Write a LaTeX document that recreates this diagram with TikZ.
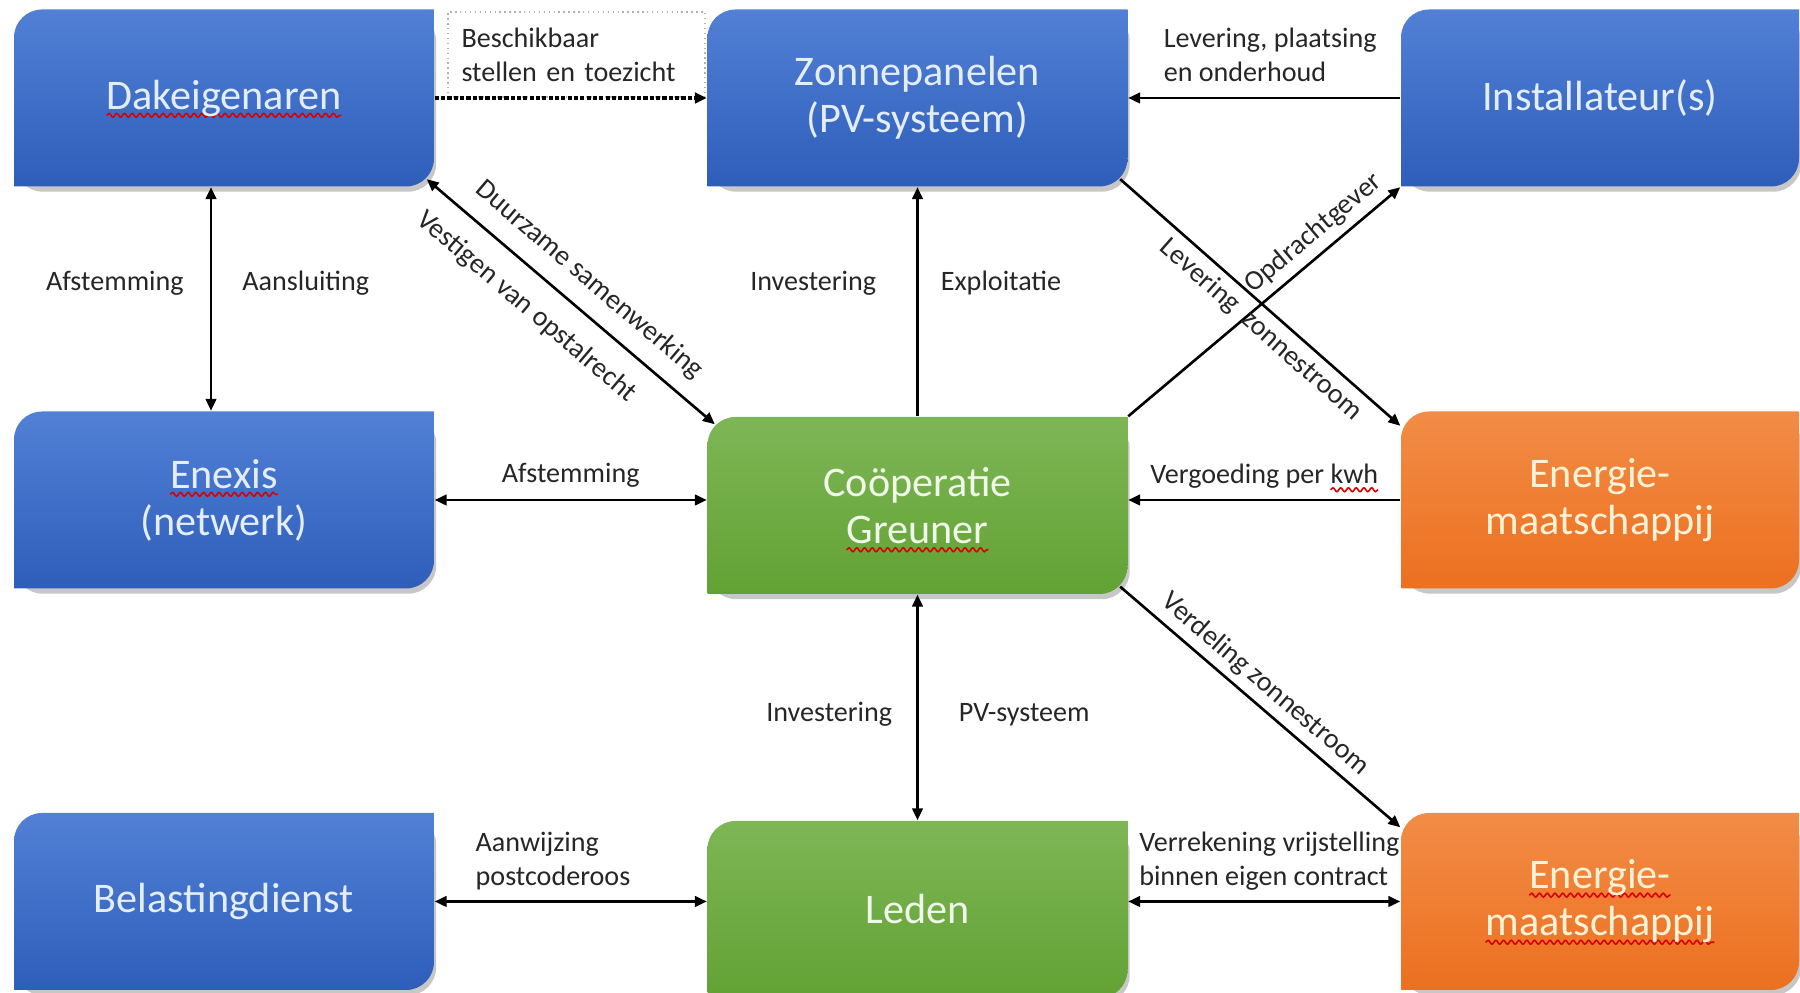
\documentclass[tikz,border=0pt]{standalone}
\usepackage{fontspec}
\setmainfont{Carlito}
\usetikzlibrary{arrows.meta,decorations.pathmorphing}
\pgfdeclarelayer{background}
\pgfsetlayers{background,main}

\definecolor{blueTop}{RGB}{82,128,214}
\definecolor{blueBot}{RGB}{46,94,186}
\definecolor{blueText}{RGB}{228,237,252}
\definecolor{greenTop}{RGB}{126,182,86}
\definecolor{greenBot}{RGB}{98,162,52}
\definecolor{greenText}{RGB}{240,248,234}
\definecolor{orangeTop}{RGB}{242,140,70}
\definecolor{orangeBot}{RGB}{236,112,32}
\definecolor{orangeText}{RGB}{255,242,214}

\newcommand\spellwave[1]{\setbox0=\hbox{#1}\rlap{\tikz[overlay]\draw[-, solid, red!85!black, line width=0.45pt, decorate, decoration={snake, amplitude=0.55pt, segment length=2.2pt}] (0,-1.8pt) -- (\the\wd0,-1.8pt);}\box0}

\begin{document}
\begin{tikzpicture}[
  >={Triangle[length=3.4pt,width=3pt]},
  lbl/.style={font=\fontsize{8}{9.6}\selectfont, text=black!85, inner sep=2pt},
  link/.style={line width=0.75pt, black},
  actor/.style n args={3}{minimum width=4.2cm, minimum height=1.77cm, inner sep=0pt,
    align=center, font=\fontsize{12}{13.4}\selectfont, text=#3,
    path picture={\shade[top color=#1, bottom color=#2]
      (path picture bounding box.south west)
      -- ([yshift=-2.8mm]path picture bounding box.north west)
      arc[start angle=180, end angle=90, radius=2.8mm]
      -- (path picture bounding box.north east)
      -- ([yshift=2.8mm]path picture bounding box.south east)
      arc[start angle=0, end angle=-90, radius=2.8mm] -- cycle;}},
  bluebox/.style={actor={blueTop}{blueBot}{blueText}},
  greenbox/.style={actor={greenTop}{greenBot}{greenText}},
  orangebox/.style={actor={orangeTop}{orangeBot}{orangeText}},
  notebox/.style={lbl, draw=gray!60, densely dotted, align=left, text width=2.3cm,
    inner xsep=1.35mm, minimum height=0.85cm},
]
\path[use as bounding box] (0,0) rectangle (18,9.93);
\clip (0,0) rectangle (18,9.93);

\node[bluebox] (dak) at (2.24,8.95) {\spellwave{Dakeigenaren}};
\node[bluebox] (zon) at (9.175,8.95) {Zonnepanelen\\(PV-systeem)};
\node[bluebox, minimum width=3.98cm] (inst) at (16.00,8.95) {Installateur(s)};
\node[bluebox] (enexis) at (2.24,4.93) {\spellwave{Enexis}\\(netwerk)};
\node[greenbox] (coop) at (9.175,4.875) {Coöperatie\\\spellwave{Greuner}};
\node[orangebox, minimum width=3.98cm] (en1) at (16.00,4.93) {Energie-\\maatschappij};
\node[bluebox] (belast) at (2.24,0.915) {Belastingdienst};
\node[greenbox] (leden) at (9.175,0.835) {Leden};
\node[orangebox, minimum width=3.98cm] (en2) at (16.00,0.915) {\spellwave{Energie-}\\\spellwave{maatschappij}};

% soft shadows under the boxes
\begin{pgfonlayer}{background}
\foreach \b in {dak,zon,inst,enexis,coop,en1,belast,leden,en2}
  \fill[black, opacity=0.22, rounded corners=2.8mm] ([shift={(0.015,-0.045)}]\b.south west) rectangle ([shift={(0.015,-0.045)}]\b.north east);
\end{pgfonlayer}

\node[notebox] (besch) at (5.765,9.385) {Beschikbaar\\stellen en toezicht};

\path[draw,link,->,line width=1pt,dash pattern=on 1.2pt off 0.6pt] (dak.east) -- (zon.west);
\path[draw,link,->] (inst.west) -- node[lbl, pos=0.9, above right, align=left, yshift=0.8mm] (lev) {Levering, plaatsing\\en onderhoud} (zon.east);
\path[draw,link,<->] ([xshift=-1.3mm]dak.south) -- node[lbl, pos=0.43, left=1.9mm] (afst1) {Afstemming} node[lbl, pos=0.43, right=2.3mm] (aans) {Aansluiting} ([xshift=-1.3mm]enexis.north);
\path[draw,link,<->] ([shift={(-0.08,0.08)}]dak.south east) -- node[lbl, sloped, pos=0.5, above=0.8mm] (duur) {Duurzame samenwerking} node[lbl, sloped, pos=0.42, below=1.2mm] (vest) {Vestigen van opstalrecht} ([shift={(0.08,-0.08)}]coop.north west);
\path[draw,link,->] (coop.north) -- node[lbl, pos=0.58, left=3.3mm] (inv1) {Investering} node[lbl, pos=0.58, right=1.5mm] (expl) {Exploitatie} (zon.south);
\path[draw,link,->] (coop.north east) -- node[lbl, sloped, pos=0.73, above] (opdr) {Opdrachtgever} (inst.south west);
\path[draw,link,->] ([shift={(-0.08,0.08)}]zon.south east) -- node[lbl, sloped, pos=0.55, below] (levz) {Levering\hspace{0.6mm} zonnestroom} ([yshift=-0.15cm]en1.north west);
\path[draw,link,->] (en1.west) -- node[lbl, above=0.4mm] (verg) {Vergoeding per \spellwave{kwh}} (en1.west -| coop.east);
\path[draw,link,<->] (enexis.east) -- node[lbl, above=0.4mm] (afst2) {Afstemming} (enexis.east -| coop.west);
\path[draw,link,<->] (coop.south) -- node[lbl, pos=0.53, left=1.7mm] (inv2) {Investering} node[lbl, pos=0.53, right=3.3mm] (pvs) {PV-systeem} (leden.north);
\path[draw,link,->] ([shift={(-0.08,0.08)}]coop.south east) -- node[lbl, sloped, pos=0.47, above] (verd) {Verdeling zonnestroom} ([yshift=-0.15cm]en2.north west);
\path[draw,link,<->] (belast.east) -- node[lbl, pos=0.12, above right, align=left, yshift=0.3mm] (aanw) {Aanwijzing\\postcoderoos} (belast.east -| leden.west);
\path[draw,link,<->] (en2.west -| leden.east) -- node[lbl, pos=0.01, above right, align=left, yshift=0.3mm] (verr) {Verrekening vrijstelling\\binnen eigen contract} (en2.west);
\end{tikzpicture}
\end{document}
